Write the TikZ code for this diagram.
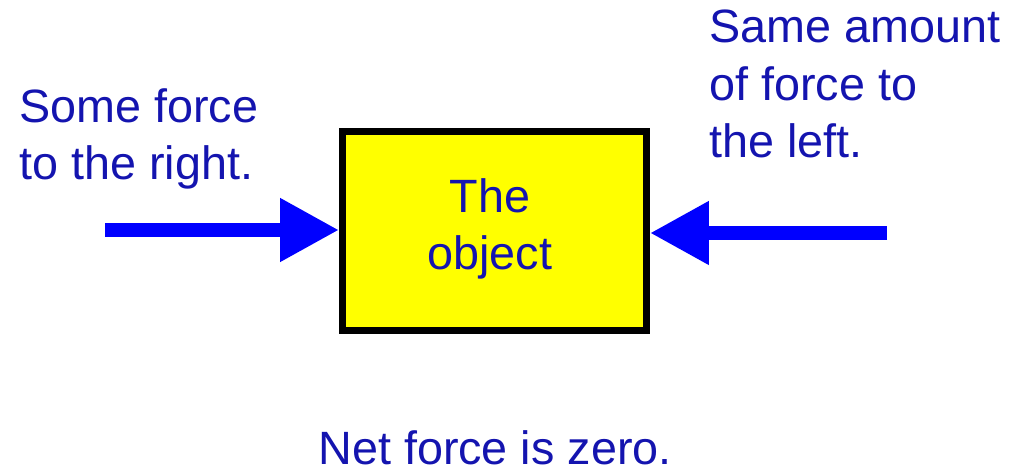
\documentclass[tikz,border=0pt]{standalone}
\usepackage{fontspec}
\setmainfont{Liberation Sans}
\usepackage{xcolor}
\usetikzlibrary{arrows.meta, positioning}

\definecolor{textblue}{RGB}{20,20,175}
\definecolor{arrowblue}{RGB}{0,0,255}
\definecolor{objyellow}{RGB}{255,255,0}

\begin{document}
\begin{tikzpicture}[
    x=0.02cm, y=-0.02cm,
    label/.style={text=textblue, font=\fontsize{26.6pt}{32.9pt}\selectfont, inner sep=0pt, align=left},
    object/.style={rectangle, draw=black, line width=0.14cm, fill=objyellow, minimum width=6.08cm, minimum height=3.98cm, inner sep=0pt},
    force/.style={arrowblue, line width=0.28cm, -{Triangle[length=1.18cm, width=1.2cm]}}
]
\useasboundingbox (0,0) rectangle (1010,472);

% The object
\node (obj) [object] at (494.5,231) {};
\node (objtext) [label, align=center, anchor=base] at (490,270) {The\\object};

% Labels
\node (rightlbl) [label, anchor=base west] at (19,180) {Some force\\to the right.};
\node (leftlbl) [label, anchor=base west] at (709,158) {Same amount\\of force to\\the left.};
\node (net) [label, anchor=base] at (495,464) {Net force is zero.};

% Forces
\coordinate (lstart) at (105,230);
\coordinate (rstart) at (887,233);
\draw [force] (lstart) -- (obj.west |- lstart);
\draw [force] (rstart) -- (obj.east |- rstart);

\end{tikzpicture}
\end{document}
